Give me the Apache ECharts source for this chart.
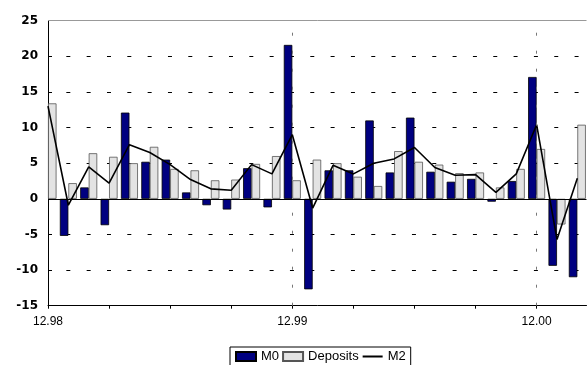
<!DOCTYPE html>
<html>
<head>
<meta charset="utf-8">
<script src="https://cdn.jsdelivr.net/npm/echarts@6/dist/echarts.min.js"></script>
<style>
html,body{margin:0;padding:0;background:#fff;}
#c{width:588px;height:365px;}
</style>
</head>
<body>
<div id="c"></div>
<script>
// Months from 12.98 (index 0) to 02.01 (index 26)
const monthIndex = [0,1,2,3,4,5,6,7,8,9,10,11,12,13,14,15,16,17,18,19,20,21,22,23,24,25,26];
const xTickLabels = {0: '12.98', 12: '12.99', 24: '12.00'};
const m0 = [null,-5.2,1.6,-3.7,12.1,5.2,5.5,0.9,-0.9,-1.5,4.3,-1.2,21.6,-12.7,4.0,4.0,11.0,3.7,11.4,3.8,2.4,2.8,-0.4,2.5,17.1,-9.4,-11.0];
const deposits = [13.4,2.2,6.4,5.9,5.0,7.3,4.2,4.0,2.6,2.7,4.9,6.0,2.6,5.5,5.0,3.1,1.8,6.7,5.2,4.8,3.6,3.7,1.6,4.2,7.0,-3.6,10.4];
const m2 = [13.0,-0.9,4.5,2.2,7.6,6.5,4.8,2.7,1.4,1.2,4.8,3.5,9.0,-1.3,4.7,3.5,5.0,5.6,7.2,4.4,3.3,3.4,0.9,3.5,10.4,-5.7,2.9];

const pair = arr => arr.map((v, i) => [monthIndex[i], v]);
const font = 'Liberation Sans, Arial, sans-serif';

const chart = echarts.init(document.getElementById('c'), null, {renderer: 'canvas'});
chart.setOption({
  animation: false,
  backgroundColor: '#fff',
  grid: {left: 48, right: 1.5, top: 20.7, bottom: 59.3, containLabel: false},
  legend: {
    left: 230, bottom: -1,
    itemWidth: 20, itemHeight: 9, itemGap: 3,
    padding: [3, 5, 3, 5],
    borderColor: '#000', borderWidth: 1,
    textStyle: {fontFamily: font, fontSize: 13, color: '#000'},
    data: [
      {name: 'M0', icon: 'rect'},
      {name: 'Deposits', icon: 'rect'},
      {name: 'M2', itemStyle: {opacity: 0}}
    ]
  },
  xAxis: {
    type: 'value', min: 0, max: 26.45, interval: 3,
    position: 'bottom',
    axisLine: {onZero: false, lineStyle: {color: '#000', width: 1}},
    axisTick: {show: true, length: 3, customValues: [0,3,6,9,12,15,18,21,24], lineStyle: {color: '#000'}},
    axisLabel: {customValues: [0,12,24], formatter: v => xTickLabels[v] || '', fontFamily: font, fontSize: 12, color: '#000', margin: 10},
    splitLine: {show: false}
  },
  yAxis: {
    type: 'value', min: -15, max: 25, interval: 5,
    axisLine: {show: true, lineStyle: {color: '#000', width: 1}},
    axisTick: {show: true, inside: true, length: 4, lineStyle: {color: '#000'}},
    axisLabel: {fontFamily: 'DejaVu Sans, sans-serif', fontSize: 12, fontWeight: 'bold', color: '#000', margin: 10},
    splitLine: {show: true, lineStyle: {color: '#000', width: 1, type: [4, 16.33], dashOffset: 2}}
  },
  series: [
    {
      name: 'guides', type: 'line', data: [], z: 1, silent: true,
      markLine: {
        silent: true, symbol: 'none', label: {show: false}, animation: false,
        data: [
          {xAxis: 12, lineStyle: {color: '#777', width: 1, type: [3, 15]}},
          {xAxis: 24, lineStyle: {color: '#777', width: 1, type: [3, 15]}},
          {yAxis: 25, lineStyle: {color: '#999', width: 1, type: 'solid'}}
        ]
      }
    },
    {
      name: 'M0', type: 'bar', data: pair(m0), barWidth: 8.5, barGap: 0, z: 2,
      itemStyle: {color: '#000080', borderColor: '#000', borderWidth: 0.8}
    },
    {
      name: 'Deposits', type: 'bar', data: pair(deposits), barWidth: 8.5, barGap: 0, z: 2,
      itemStyle: {color: '#e3e3e3', borderColor: '#555', borderWidth: 0.8}
    },
    {
      name: 'M2', type: 'line', data: pair(m2), z: 4, showSymbol: false, symbol: 'none',
      lineStyle: {color: '#000', width: 1.6},
      itemStyle: {color: '#000'},
      markLine: {
        silent: true, symbol: 'none', label: {show: false}, animation: false,
        data: [{yAxis: 0, lineStyle: {color: '#000', width: 1, type: 'solid'}}]
      }
    }
  ]
});
</script>
</body>
</html>
